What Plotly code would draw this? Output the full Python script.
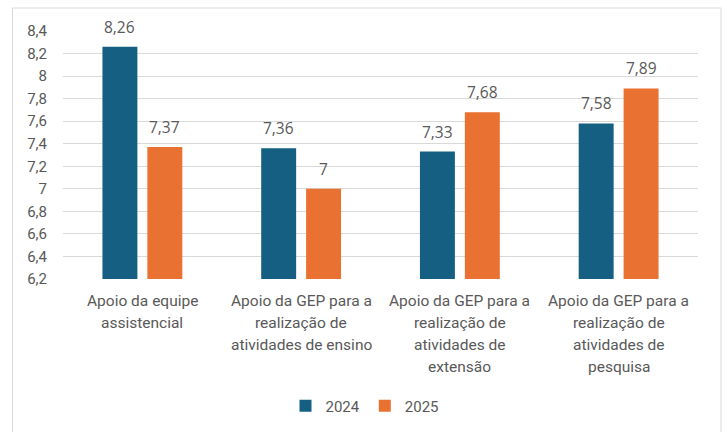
import plotly.graph_objects as go

categories = [
    "Apoio da equipe<br>assistencial",
    "Apoio da GEP para a<br>realização de<br>atividades de ensino",
    "Apoio da GEP para a<br>realização de<br>atividades de<br>extensão",
    "Apoio da GEP para a<br>realização de<br>atividades de<br>pesquisa",
]
cat_ids = ["c1", "c2", "c3", "c4"]
values_2024 = [8.26, 7.36, 7.33, 7.58]
values_2025 = [7.37, 7.00, 7.68, 7.89]
series_names = ["2024", "2025"]
colors = ["#156082", "#E97132"]
y_ticks = [6.2, 6.4, 6.6, 6.8, 7.0, 7.2, 7.4, 7.6, 7.8, 8.0, 8.2, 8.4]

W, H = 727, 432
L, R, T, B = 63, 29, 31, 153
pw, ph = W - L - R, H - T - B
TXT = "#595959"

def fmt(v):
    return f"{v:g}".replace(".", ",")

fig = go.Figure()
for name, vals, col in zip(series_names, [values_2024, values_2025], colors):
    fig.add_trace(go.Bar(x=cat_ids, y=vals, name=name, marker_color=col,
                         marker_line_width=0))

annotations = []
for si, vals in enumerate([values_2024, values_2025]):
    for cid, v in zip(cat_ids, vals):
        annotations.append(dict(x=cid, y=v, xref="x", yref="y", text=fmt(v),
                                showarrow=False, yanchor="bottom", xshift=-22.5 if si == 0 else 22.5,
                                yshift=7, font=dict(family="Open Sans", size=15.5, color=TXT)))
for cid, lab in zip(cat_ids, categories):
    for li, line in enumerate(lab.split("<br>")):
        annotations.append(dict(x=cid, xref="x", y=0, yref="paper", text=line, showarrow=False,
                                yanchor="middle", yshift=-22 - 22 * li,
                                font=dict(family="Roboto", size=15.5, color=TXT)))

fig.update_layout(
    width=W, height=H,
    margin=dict(l=L, r=R, t=T, b=B, autoexpand=False),
    paper_bgcolor="white", plot_bgcolor="white",
    separators=",.",
    barmode="group", bargap=0.434, bargroupgap=0.222,
    font=dict(family="Roboto", size=14, color=TXT),
    xaxis=dict(showticklabels=False, showgrid=False, zeroline=False, showline=False, ticks=""),
    yaxis=dict(range=[6.2, 8.4], tickvals=y_ticks, showgrid=True, gridcolor="#D9D9D9",
               gridwidth=1, zeroline=False, showline=False, ticks="", ticklabelstandoff=15,
               tickfont=dict(family="Roboto", size=15, color=TXT)),
    legend=dict(orientation="h", x=(365 - L) / pw, xanchor="center", y=(H - B - 406) / ph,
                yanchor="middle", font=dict(family="Roboto", size=15, color=TXT),
                itemwidth=30, traceorder="normal"),
    annotations=annotations,
    shapes=[dict(type="rect", xref="paper", yref="paper",
                 x0=(12.5 - L) / pw, x1=(721 - L) / pw,
                 y0=(H - B - 445) / ph, y1=(H - B - 8) / ph,
                 line=dict(color="#D9D9D9", width=1), fillcolor="rgba(0,0,0,0)", layer="below")],
)

fig.write_html("out.html", config={"displayModeBar": False},
               post_script="document.body.style.margin='0';")
